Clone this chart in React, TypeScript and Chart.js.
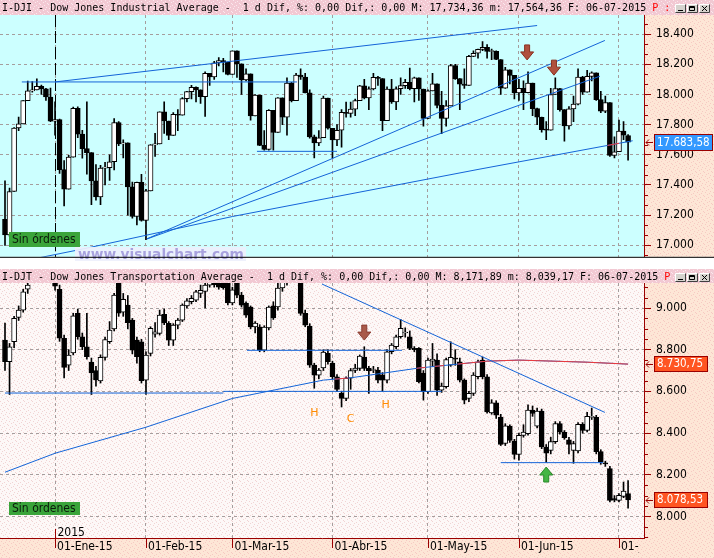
import React, { useEffect, useRef } from 'react';
import { Chart, registerables } from 'chart.js';

Chart.register(...registerables);

/* ============================ DATA ============================ */
// bar index 0 = 16-Dic-2014 ... 137 = 06-Jul-2015 (trading days)
const monthTickIndex = [11, 31, 50, 72, 93, 113, 135];
const monthTickLabels = ['01-Ene-15', '01-Feb-15', '01-Mar-15', '01-Abr-15', '01-May-15', '01-Jun-15', '01-Jul-15'];
const yearTickIndex = 11;
const yearTickLabel = '2015';
const quoteDate = '06-07-2015';

const djiTickValues = [17000, 17200, 17400, 17600, 17800, 18000, 18200, 18400];
const djtTickValues = [8000, 8200, 8400, 8600, 8800, 9000];

// I-DJI Dow Jones Industrial Average
const djiOpen = [
  17173, 17069, 17357, 17778, 17805, 17959, 18024, 18030, 18054, 18038,
  17983, 17823, 17833, 17502, 17372, 17585, 17908, 17737, 17641, 17614,
  17427, 17321, 17512, 17515, 17554, 17814, 17673, 17679, 17387, 17191,
  17417, 17165, 17361, 17666, 17673, 17885, 17824, 17729, 17869, 17862,
  17972, 18019, 18048, 18030, 17986, 18140, 18117, 18209, 18225, 18214,
  18133, 18289, 18203, 18097, 18136, 17857, 17996, 17663, 17635, 17895,
  17749, 17977, 17849, 18076, 17959, 18128, 18116, 18011, 17719, 17678,
  17713, 17976, 17776, 17698, 17763, 17881, 17875, 17903, 17959, 18058,
  17977, 18037, 18113, 18106, 17826, 18035, 17950, 18038, 18059, 18080,
  18038, 18110, 18036, 17841, 18024, 18070, 17928, 17842, 17924, 18191,
  18105, 18068, 18060, 18252, 18273, 18299, 18312, 18285, 18286, 18232,
  18042, 18163, 18126, 18011, 18040, 18012, 18076, 17906, 17849, 17767,
  17764, 18000, 18039, 17899, 17791, 17904, 17936, 18116, 18016, 18120,
  18144, 17966, 17890, 17947, 17596, 17620, 17758, 17728,
];
const djiHigh = [
  17427, 17380, 17780, 17850, 17960, 18088, 18086, 18103, 18062, 18040,
  18043, 17951, 17837, 17562, 17597, 17916, 17918, 17763, 17951, 17614,
  17535, 17531, 17550, 17600, 17840, 17820, 17700, 17680, 17420, 17420,
  17470, 17372, 17667, 17742, 17885, 17951, 17824, 17880, 17900, 17980,
  18020, 18060, 18050, 18030, 18150, 18140, 18220, 18245, 18240, 18215,
  18290, 18289, 18203, 18170, 18136, 18000, 17996, 17760, 17900, 17895,
  17980, 17977, 18110, 18080, 18140, 18170, 18140, 18030, 17730, 17760,
  17990, 17976, 17776, 17800, 17900, 17950, 17950, 17970, 18060, 18100,
  18050, 18140, 18120, 18106, 18050, 18100, 18050, 18110, 18100, 18175,
  18115, 18110, 18036, 18030, 18140, 18070, 18020, 17960, 18200, 18200,
  18105, 18170, 18260, 18290, 18300, 18351, 18330, 18300, 18290, 18232,
  18180, 18163, 18126, 18100, 18090, 18150, 18076, 17910, 17850, 17820,
  18040, 18110, 18040, 17900, 17920, 17990, 18170, 18120, 18160, 18150,
  18144, 18020, 17990, 17947, 17720, 17830, 17820, 17734.36,
];
const djiLow = [
  17000, 17060, 17357, 17760, 17805, 17959, 18015, 18030, 18000, 17960,
  17820, 17731, 17476, 17262, 17372, 17585, 17713, 17578, 17471, 17270,
  17300, 17270, 17400, 17430, 17500, 17660, 17580, 17200, 17180, 17136,
  17160, 17037, 17361, 17590, 17673, 17741, 17700, 17729, 17760, 17862,
  17950, 17970, 17950, 17940, 17855, 18060, 18100, 18190, 18150, 18130,
  18133, 18113, 18000, 18090, 17830, 17857, 17660, 17630, 17630, 17630,
  17749, 17800, 17730, 17950, 17959, 18100, 18010, 17710, 17580, 17660,
  17713, 17770, 17578, 17660, 17650, 17850, 17850, 17860, 17959, 17970,
  17900, 18030, 18060, 17760, 17826, 17940, 17900, 18000, 18040, 18030,
  17950, 17960, 17790, 17840, 18024, 17910, 17740, 17790, 17924, 18100,
  17900, 18040, 18060, 18250, 18240, 18290, 18240, 18230, 18230, 18000,
  18040, 18070, 17970, 17960, 17900, 18010, 17860, 17800, 17750, 17700,
  17764, 18000, 17890, 17690, 17770, 17820, 17930, 18000, 18016, 18090,
  17960, 17880, 17880, 17590, 17580, 17620, 17700, 17564.36,
];
const djiClose = [
  17069, 17357, 17778, 17805, 17959, 18024, 18030, 18054, 18038, 17983,
  17823, 17833, 17502, 17372, 17585, 17908, 17737, 17641, 17614, 17427,
  17321, 17512, 17515, 17554, 17814, 17673, 17679, 17387, 17191, 17417,
  17165, 17361, 17666, 17673, 17885, 17824, 17729, 17869, 17862, 17972,
  18019, 18048, 18030, 17986, 18140, 18117, 18209, 18225, 18214, 18133,
  18289, 18203, 18097, 18136, 17857, 17996, 17663, 17635, 17895, 17749,
  17977, 17849, 18076, 17959, 18128, 18116, 18011, 17719, 17678, 17713,
  17976, 17776, 17698, 17763, 17881, 17875, 17903, 17959, 18058, 17977,
  18037, 18113, 18106, 17826, 18035, 17950, 18038, 18059, 18080, 18038,
  18110, 18036, 17841, 18024, 18070, 17928, 17842, 17924, 18191, 18105,
  18068, 18060, 18252, 18273, 18299, 18312, 18285, 18286, 18232, 18042,
  18163, 18126, 18011, 18040, 18012, 18076, 17906, 17849, 17767, 17764,
  18000, 18039, 17899, 17791, 17904, 17936, 18116, 18016, 18120, 18144,
  17966, 17890, 17947, 17596, 17620, 17758, 17730, 17683.58,
];
// moving average (read at a few bars)
const djiMaIndex = [-2, 17, 50, 104, 133, 138];
const djiMaValue = [16860, 16975, 17191, 17503, 17665, 17693];
const djiMaRedRanges = [[132.5, 135]];
// drawn lines: [bar1, value1, bar2, value2]
const djiTrendLines = [
  [3.7, 18083, 64.2, 18083],
  [11, 18083, 117, 18457],
  [55.4, 17623, 73, 17623],
  [31.2, 17043, 131.9, 18358],
  [31.2, 17042, 130.8, 18121],
];
const djiDownArrows = [[114.8, 18229], [120.7, 18128]];

// I-DJT Dow Jones Transportation Average
const djtOpen = [
  8846, 8742, 8838, 8955, 8990, 9090, 9140, 9180, 9210, 9230,
  9190, 9160, 9090, 8855, 8726, 8785, 8974, 8862, 8814, 8740,
  8700, 8650, 8763, 8838, 8900, 9130, 8980, 9014, 8942, 8846,
  8838, 8654, 8782, 8875, 8878, 8970, 8926, 8846, 8918, 8942,
  9010, 9030, 9038, 9070, 9080, 9110, 9160, 9140, 9130, 9130,
  9024, 9130, 9062, 9024, 9005, 8909, 8909, 8798, 8904, 9010,
  9005, 9096, 9125, 9150, 9170, 9140, 8974, 8913, 8726, 8678,
  8712, 8782, 8736, 8670, 8590, 8566, 8663, 8700, 8710, 8763,
  8710, 8700, 8702, 8678, 8654, 8790, 8814, 8862, 8880, 8862,
  8806, 8806, 8686, 8598, 8745, 8750, 8606, 8622, 8726, 8760,
  8742, 8654, 8566, 8590, 8670, 8750, 8670, 8497, 8545, 8477,
  8350, 8434, 8361, 8298, 8389, 8397, 8510, 8433, 8506, 8333,
  8317, 8359, 8445, 8404, 8368, 8317, 8314, 8442, 8413, 8475,
  8475, 8311, 8255, 8229, 8085, 8077, 8096, 8109,
];
const djtHigh = [
  8928, 8830, 8960, 9010, 9090, 9140, 9200, 9230, 9250, 9260,
  9220, 9175, 9110, 8870, 8800, 8975, 8995, 8880, 8975, 8760,
  8720, 8775, 8860, 8935, 9070, 9150, 9070, 9060, 8950, 8860,
  8850, 8790, 8910, 8930, 8990, 8995, 8935, 8925, 8950, 9020,
  9045, 9060, 9085, 9110, 9130, 9170, 9180, 9150, 9140, 9140,
  9100, 9140, 9075, 9030, 9010, 8935, 8920, 8915, 9010, 9030,
  9125, 9140, 9160, 9190, 9200, 9150, 8990, 8925, 8735, 8710,
  8800, 8800, 8745, 8680, 8600, 8670, 8710, 8730, 8775, 8814,
  8720, 8720, 8715, 8690, 8800, 8830, 8870, 8945, 8905, 8890,
  8815, 8810, 8700, 8760, 8830, 8780, 8640, 8760, 8838, 8800,
  8760, 8660, 8600, 8690, 8750, 8765, 8680, 8560, 8555, 8490,
  8445, 8440, 8370, 8400, 8440, 8535, 8530, 8520, 8515, 8345,
  8380, 8455, 8455, 8412, 8380, 8360, 8450, 8450, 8500, 8520,
  8485, 8320, 8265, 8240, 8100, 8110, 8165, 8171.89,
];
const djtLow = [
  8700, 8585, 8810, 8940, 8980, 9070, 9125, 9150, 9170, 9170,
  9140, 9085, 8840, 8665, 8700, 8775, 8850, 8800, 8755, 8585,
  8625, 8640, 8750, 8830, 8890, 8960, 8960, 8900, 8780, 8735,
  8640, 8585, 8770, 8860, 8870, 8920, 8820, 8820, 8900, 8935,
  9000, 9020, 9030, 9050, 9000, 9100, 9100, 9090, 9090, 9015,
  9015, 9050, 9005, 8955, 8900, 8880, 8790, 8790, 8895, 8945,
  8990, 9080, 9110, 9130, 9130, 8965, 8910, 8715, 8615, 8660,
  8700, 8730, 8660, 8600, 8525, 8555, 8610, 8690, 8700, 8700,
  8590, 8690, 8640, 8600, 8640, 8780, 8805, 8855, 8860, 8800,
  8790, 8640, 8558, 8590, 8720, 8580, 8595, 8615, 8720, 8725,
  8645, 8540, 8550, 8580, 8660, 8660, 8495, 8490, 8470, 8340,
  8340, 8355, 8275, 8270, 8380, 8390, 8480, 8425, 8325, 8260,
  8300, 8350, 8395, 8370, 8300, 8255, 8305, 8400, 8405, 8465,
  8300, 8250, 8240, 8070, 8070, 8070, 8090, 8039.17,
];
const djtClose = [
  8742, 8814, 8950, 8990, 9078, 9110, 9180, 9210, 9230, 9190,
  9160, 9105, 8855, 8715, 8774, 8962, 8862, 8814, 8766, 8690,
  8655, 8763, 8849, 8894, 9062, 8975, 9042, 8930, 8798, 8766,
  8651, 8774, 8902, 8886, 8966, 8930, 8846, 8918, 8942, 9014,
  9034, 9047, 9078, 9085, 9110, 9160, 9112, 9100, 9097, 9024,
  9087, 9062, 9014, 8966, 8909, 8928, 8798, 8909, 9005, 8952,
  9096, 9125, 9145, 9170, 9150, 8974, 8918, 8726, 8678, 8702,
  8789, 8742, 8670, 8609, 8566, 8663, 8700, 8712, 8769, 8710,
  8699, 8705, 8654, 8654, 8790, 8822, 8862, 8902, 8884, 8806,
  8800, 8646, 8598, 8750, 8755, 8606, 8625, 8753, 8763, 8755,
  8654, 8558, 8590, 8678, 8742, 8670, 8501, 8545, 8486, 8346,
  8435, 8365, 8298, 8389, 8405, 8510, 8494, 8506, 8333, 8304,
  8359, 8446, 8404, 8378, 8346, 8350, 8442, 8413, 8480, 8480,
  8311, 8261, 8252, 8077, 8078, 8101, 8122, 8078.53,
];
const djtMaIndex = [0, 11, 31, 50, 70, 76, 91, 106, 113, 128, 137];
const djtMaValue = [8212, 8303, 8428, 8566, 8654, 8665, 8712, 8745, 8750, 8740, 8730.75];
const djtMaRedRanges = [[72.5, 75.5], [90.5, 92.5], [94.5, 96.5], [99.5, 140]];
const djtTrendLines = [
  [0, 8592, 48, 8592],
  [48, 8600, 96, 8600],
  [53.2, 8797, 87.3, 8797],
  [109, 8258, 131.5, 8258],
  [69.7, 9115, 131.9, 8499],
];
const djtDownArrows = [[79, 8846]];
const djtUpArrows = [[119, 8237]];
const djtPatternText = ['H', 'C', 'H'];
const djtPatternIndex = [68, 76, 83.7];
const djtPatternValue = [8494, 8467, 8535];

/* ============================ STYLE ============================ */
const W = 714;
const AXIS_W = 70;
const TOP_H = 269;
const BOT_H = 289;
const X_MIN = -1.1;
const X_MAX = 140.5;
const DJI_MIN = 16924;
const DJI_MAX = 18526.7;
const DJT_MIN = 7896.4;
const DJT_MAX = 9120;

const GRID = '#a59d9d';
const AXIS_RED = '#9a0000';
const TOP_BG = '#ccffff';
const LINE_BLUE = '#1464d8';
const MA_RED = '#f03a3a';
const MONO = '"DejaVu Sans Mono", "Liberation Mono", monospace';

// speckled backgrounds like the picture's textures
const DOTS = [[1, 0], [5, 1], [3, 2], [7, 3], [0, 4], [4, 5], [2, 6], [6, 7]];
function speckle(ctx: CanvasRenderingContext2D, base: string, dot: string) {
  const c = document.createElement('canvas');
  c.width = 8; c.height = 8;
  const g = c.getContext('2d') as CanvasRenderingContext2D;
  g.fillStyle = base; g.fillRect(0, 0, 8, 8);
  g.fillStyle = dot;
  for (const [x, y] of DOTS) g.fillRect(x, y, 1, 1);
  return ctx.createPattern(c, 'repeat') as CanvasPattern;
}
function fills(ctx: CanvasRenderingContext2D) {
  return {
    title: speckle(ctx, '#f2c9d3', '#fbe9ee'),
    axis: speckle(ctx, '#fde6d6', '#f6c9c2'),
    plot: speckle(ctx, '#fdf8f7', '#f1d3d3'),
  };
}

function fmtNum(v: number, dec: number) {
  const s = Math.abs(v).toFixed(dec);
  const [ip, dp] = s.split('.');
  const g = ip.replace(/\B(?=(\d{3})+(?!\d))/g, '.');
  return (v < 0 ? '-' : '') + g + (dp ? ',' + dp : '');
}
const fmtTitleNum = (v: number) => fmtNum(v, 2).replace(/\./g, ',');

function detectNarrow() {
  const ctx = document.createElement('canvas').getContext('2d') as CanvasRenderingContext2D;
  const s = 'Sin órdenes 0123456789.,';
  const w = (f: string) => { ctx.font = f; return ctx.measureText(s).width; };
  const base = w('40px monospace');
  const cands = ['Liberation Sans Narrow', 'DejaVu Sans Condensed', 'Arial Narrow'];
  let family = '"DejaVu Sans Mono"';
  for (const name of cands) {
    if (Math.abs(w(`40px "${name}", monospace`) - base) > 0.5) { family = `"${name}"`; break; }
  }
  ctx.font = `20px ${family}`;
  const w20 = ctx.measureText('18.400').width;
  const size = Math.min(14, Math.round(((20 * 37) / w20) * 2) / 2);
  return { family, size };
}

function lineDs(points: any[], color: string, extra: any = {}) {
  return {
    type: 'line', data: points, borderColor: color, borderWidth: 1, pointRadius: 0,
    pointHoverRadius: 0, fill: false, tension: 0, order: 0, ...extra,
  };
}

function candleSets(o: number[], h: number[], l: number[], c: number[]) {
  const body = o.map((v, i) => ({ x: i, y: [v, c[i]] }));
  const wick = o.map((_, i) => ({ x: i, y: [l[i], h[i]] }));
  const fill = o.map((v, i) => (c[i] >= v ? '#ffffff' : '#000000'));
  return [
    { type: 'bar', data: body, backgroundColor: fill, borderColor: '#000', borderWidth: 1, borderSkipped: false,
      barThickness: 5, grouped: false, minBarLength: 1, order: 1 },
    { type: 'bar', data: wick, backgroundColor: '#000', borderWidth: 0, barThickness: 1, grouped: false, order: 2 },
  ];
}

const rangeClipPlugin = {
  id: 'rangeClip',
  beforeDatasetDraw(chart: any, args: any) {
    const ds = chart.data.datasets[args.index];
    if (!ds.clipRanges) return;
    const { ctx, chartArea: a } = chart;
    const xs = chart.scales.x;
    ctx.save();
    ctx.beginPath();
    for (const [r0, r1] of ds.clipRanges) {
      const p0 = xs.getPixelForValue(r0);
      const p1 = xs.getPixelForValue(r1);
      ctx.rect(p0, a.top, p1 - p0, a.bottom - a.top);
    }
    ctx.clip();
  },
  afterDatasetDraw(chart: any, args: any) {
    const ds = chart.data.datasets[args.index];
    if (ds.clipRanges) chart.ctx.restore();
  },
};

function fitFont(ctx: CanvasRenderingContext2D, text: string, nf: any, maxW: number) {
  let size = nf.size;
  ctx.font = `${size}px ${nf.family}`;
  while (ctx.measureText(text).width > maxW && size > 8) {
    size -= 0.5;
    ctx.font = `${size}px ${nf.family}`;
  }
}

function drawTitle(ctx: CanvasRenderingContext2D, text: string, tag: string) {
  ctx.font = `10px ${MONO}`;
  ctx.textBaseline = 'alphabetic';
  ctx.textAlign = 'left';
  ctx.fillStyle = '#000';
  ctx.fillText(text, 2, 11);
  const w = ctx.measureText(text).width;
  ctx.fillStyle = '#ff0000';
  ctx.fillText(tag, 2 + w + 6, 11);
  const xs = [675, 687, 699];
  for (let k = 0; k < 3; k++) {
    const x = xs[k];
    const y = 4;
    ctx.fillStyle = '#d6d3ce';
    ctx.fillRect(x, y, 11, 9);
    ctx.strokeStyle = '#ffffff';
    ctx.lineWidth = 1;
    ctx.beginPath(); ctx.moveTo(x + 0.5, y + 8.5); ctx.lineTo(x + 0.5, y + 0.5); ctx.lineTo(x + 10.5, y + 0.5); ctx.stroke();
    ctx.strokeStyle = '#404040';
    ctx.beginPath(); ctx.moveTo(x + 10.5, y + 0.5); ctx.lineTo(x + 10.5, y + 8.5); ctx.lineTo(x + 0.5, y + 8.5); ctx.stroke();
    ctx.strokeStyle = '#000';
    ctx.beginPath();
    if (k === 0) { ctx.moveTo(x + 3, y + 6.5); ctx.lineTo(x + 8, y + 6.5); }
    if (k === 1) { ctx.rect(x + 2.5, y + 2.5, 5, 4); ctx.moveTo(x + 2.5, y + 3.5); ctx.lineTo(x + 7.5, y + 3.5); }
    if (k === 2) { ctx.moveTo(x + 3, y + 2); ctx.lineTo(x + 8, y + 7); ctx.moveTo(x + 8, y + 2); ctx.lineTo(x + 3, y + 7); }
    ctx.stroke();
  }
}

function drawMinorTicks(ctx: CanvasRenderingContext2D, ys: any, right: number, base: number, step: number, every: number, min: number, max: number) {
  ctx.strokeStyle = AXIS_RED;
  ctx.lineWidth = 1;
  const k0 = Math.ceil((min - base) / step);
  for (let k = k0; base + k * step <= max; k++) {
    if (((k % every) + every) % every === 0) continue;
    const y = Math.round(ys.getPixelForValue(base + k * step)) + 0.5;
    ctx.beginPath(); ctx.moveTo(right, y); ctx.lineTo(right + 4, y); ctx.stroke();
  }
}

function priceBox(ctx: CanvasRenderingContext2D, yc: number, text: string, bg: string, x0: number, x1: number, h: number, nf: any) {
  const y0 = Math.round(yc - h / 2);
  ctx.fillStyle = bg;
  ctx.fillRect(x0, y0, x1 - x0, h);
  ctx.strokeStyle = AXIS_RED;
  ctx.lineWidth = 1;
  ctx.strokeRect(x0 + 0.5, y0 + 0.5, x1 - x0 - 1, h - 1);
  ctx.fillStyle = '#ffffff';
  fitFont(ctx, text, nf, x1 - x0 - 6);
  ctx.textBaseline = 'middle';
  ctx.textAlign = 'left';
  ctx.fillText(text, x0 + 3, y0 + h / 2 + 0.5);
  const ya = y0 + Math.floor(h / 2) + 0.5;
  ctx.beginPath();
  ctx.moveTo(646, ya); ctx.lineTo(653, ya);
  ctx.moveTo(649, ya - 3); ctx.lineTo(646, ya); ctx.lineTo(649, ya + 3);
  ctx.stroke();
}

function blockArrow(ctx: CanvasRenderingContext2D, cx: number, tipY: number, dir: number, fill: string, edge: string) {
  const shaftW = 5, headW = 13, headH = 8, shaftH = 7;
  ctx.beginPath();
  ctx.moveTo(cx, tipY);
  ctx.lineTo(cx - headW / 2, tipY - dir * headH);
  ctx.lineTo(cx - shaftW / 2, tipY - dir * headH);
  ctx.lineTo(cx - shaftW / 2, tipY - dir * (headH + shaftH));
  ctx.lineTo(cx + shaftW / 2, tipY - dir * (headH + shaftH));
  ctx.lineTo(cx + shaftW / 2, tipY - dir * headH);
  ctx.lineTo(cx + headW / 2, tipY - dir * headH);
  ctx.closePath();
  ctx.fillStyle = fill;
  ctx.fill();
  ctx.strokeStyle = edge;
  ctx.lineWidth = 1;
  ctx.stroke();
}

function greenBox(ctx: CanvasRenderingContext2D, x: number, y: number, w: number, h: number, nf: any) {
  ctx.fillStyle = '#3aa43a';
  ctx.fillRect(x, y, w, h);
  ctx.fillStyle = '#0a1a0a';
  fitFont(ctx, 'Sin órdenes', nf, w - 6);
  ctx.textBaseline = 'middle';
  ctx.textAlign = 'left';
  ctx.fillText('Sin órdenes', x + 3, y + h / 2 + 0.5);
}

function yAxisOpts(min: number, max: number, ticks: number[], nf: any) {
  return {
    position: 'right', min, max,
    afterBuildTicks: (s: any) => { s.ticks = ticks.map((v) => ({ value: v })); },
    afterFit: (s: any) => { s.width = AXIS_W; },
    ticks: { callback: (v: number) => fmtNum(v, 0), color: '#000', padding: 5, font: { family: nf.family, size: nf.size } },
    grid: { color: GRID, lineWidth: 1, tickColor: AXIS_RED, tickLength: 7, drawTicks: true },
    border: { display: true, color: AXIS_RED, width: 1, dash: [3, 3] },
  };
}

function xAxisOpts(showLabels: boolean, nf: any) {
  return {
    type: 'linear', min: X_MIN, max: X_MAX, offset: false, position: 'bottom',
    afterBuildTicks: (s: any) => { s.ticks = monthTickIndex.map((v) => ({ value: v })); },
    afterFit: (s: any) => { s.height = showLabels ? 20 : 0; },
    ticks: {
      display: showLabels, autoSkip: false, maxRotation: 0, minRotation: 0, align: 'start', labelOffset: 2, padding: 2,
      color: '#000', font: { family: nf.family, size: nf.size },
      callback: (v: number) => { const k = monthTickIndex.indexOf(v); return k >= 0 ? monthTickLabels[k] : ''; },
    },
    grid: { offset: false, color: GRID, lineWidth: 1, drawTicks: false },
    border: { display: showLabels, color: AXIS_RED, width: 1, dash: [3, 3] },
  };
}

const baseOptions = {
  responsive: false, maintainAspectRatio: false, animation: false, devicePixelRatio: 1, events: [],
  plugins: { legend: { display: false }, tooltip: { enabled: false }, title: { display: false } },
};

function buildTop(nf: any) {
  const last = djiClose.length - 1;
  const title = `I-DJI - Dow Jones Industrial Average -  1 d Dif, %: 0,00 Dif,: 0,00 M: ${fmtTitleNum(djiHigh[last])} m: ${fmtTitleNum(djiLow[last])} F: ${quoteDate}`;
  const maPts = djiMaIndex.map((x, k) => ({ x, y: djiMaValue[k] }));
  let pf: any = null;
  const deco = {
    id: 'topDeco',
    beforeDraw(chart: any) {
      const { ctx, chartArea: a } = chart;
      pf = pf || fills(ctx);
      ctx.save();
      ctx.fillStyle = pf.title; ctx.fillRect(0, 0, W, a.top);
      ctx.fillStyle = TOP_BG; ctx.fillRect(a.left, a.top, a.right - a.left, a.bottom - a.top);
      ctx.fillStyle = pf.axis; ctx.fillRect(a.right, a.top, W - a.right, a.bottom - a.top);
      ctx.restore();
    },
    beforeDatasetsDraw(chart: any) {
      const { ctx, chartArea: a } = chart;
      const x = Math.round(chart.scales.x.getPixelForValue(yearTickIndex)) + 0.5;
      ctx.save();
      ctx.strokeStyle = '#000'; ctx.lineWidth = 1; ctx.setLineDash([12, 4]);
      ctx.beginPath(); ctx.moveTo(x, a.top); ctx.lineTo(x, a.bottom); ctx.stroke();
      ctx.restore();
    },
    afterDraw(chart: any) {
      const { ctx, chartArea: a } = chart;
      const xs = chart.scales.x, ys = chart.scales.y;
      ctx.save();
      drawMinorTicks(ctx, ys, a.right, 17000, 200 / 3, 3, DJI_MIN, DJI_MAX);
      ctx.fillStyle = 'rgba(238,240,252,0.92)';
      ctx.fillRect(75, 247, 171, 14);
      ctx.font = 'bold 20px "DejaVu Sans"';
      const wm = 'www.visualchart.com';
      const w20 = ctx.measureText(wm).width;
      ctx.font = `bold ${(20 * 166) / w20}px "DejaVu Sans"`;
      ctx.fillStyle = '#a8a2de'; ctx.textBaseline = 'alphabetic'; ctx.textAlign = 'left';
      ctx.fillText(wm, 78, 259);
      greenBox(ctx, 9, 232, 71, 15, nf);
      for (const [i, v] of djiDownArrows) {
        blockArrow(ctx, xs.getPixelForValue(i), ys.getPixelForValue(v), 1, '#b0503e', '#8a3020');
      }
      priceBox(ctx, ys.getPixelForValue(djiClose[last]), fmtNum(djiClose[last], 2), '#3399ff', 654, 713, 17, nf);
      ctx.fillStyle = pf.title; ctx.fillRect(0, 0, W, a.top);
      drawTitle(ctx, title, 'P :');
      ctx.fillStyle = '#000'; ctx.fillRect(0, a.bottom, W, 1);
      ctx.restore();
    },
  };
  return {
    type: 'bar',
    data: {
      datasets: [
        ...djiTrendLines.map((t) => lineDs([{ x: t[0], y: t[1] }, { x: t[2], y: t[3] }], LINE_BLUE)),
        lineDs(maPts, MA_RED, { clipRanges: djiMaRedRanges }),
        lineDs(maPts, LINE_BLUE),
        ...candleSets(djiOpen, djiHigh, djiLow, djiClose),
      ],
    },
    options: {
      ...baseOptions,
      layout: { padding: { top: 15, bottom: 1, left: 0, right: 0 } },
      scales: { x: xAxisOpts(false, nf), y: yAxisOpts(DJI_MIN, DJI_MAX, djiTickValues, nf) },
    },
    plugins: [rangeClipPlugin, deco],
  };
}

function buildBottom(nf: any) {
  const last = djtClose.length - 1;
  const title = `I-DJT - Dow Jones Transportation Average -  1 d Dif, %: 0,00 Dif,: 0,00 M: ${fmtTitleNum(djtHigh[last])} m: ${fmtTitleNum(djtLow[last])} F: ${quoteDate}`;
  const maPts = djtMaIndex.map((x, k) => ({ x, y: djtMaValue[k] }));
  let pf: any = null;
  const deco = {
    id: 'botDeco',
    beforeDraw(chart: any) {
      const { ctx, chartArea: a } = chart;
      pf = pf || fills(ctx);
      ctx.save();
      ctx.fillStyle = pf.title; ctx.fillRect(0, 0, W, a.top);
      ctx.fillStyle = pf.plot; ctx.fillRect(a.left, a.top, a.right - a.left, a.bottom - a.top);
      ctx.fillStyle = pf.axis;
      ctx.fillRect(a.right, a.top, W - a.right, BOT_H - a.top);
      ctx.fillRect(0, a.bottom, W, BOT_H - a.bottom);
      ctx.restore();
    },
    afterDraw(chart: any) {
      const { ctx, chartArea: a } = chart;
      const xs = chart.scales.x, ys = chart.scales.y;
      ctx.save();
      ctx.fillStyle = pf.axis;
      ctx.fillRect(a.right - 5, a.bottom + 1, W - a.right + 5, BOT_H - a.bottom);
      drawMinorTicks(ctx, ys, a.right, 8000, 50, 4, DJT_MIN, DJT_MAX);
      ctx.strokeStyle = AXIS_RED; ctx.lineWidth = 1;
      for (const i of monthTickIndex) {
        const x = Math.round(xs.getPixelForValue(i)) + 0.5;
        ctx.beginPath(); ctx.moveTo(x, a.bottom); ctx.lineTo(x, a.bottom + 10); ctx.stroke();
      }
      const yx = Math.round(xs.getPixelForValue(yearTickIndex)) + 0.5;
      ctx.beginPath(); ctx.moveTo(yx, a.bottom - 9); ctx.lineTo(yx, a.bottom); ctx.stroke();
      ctx.fillStyle = '#000';
      ctx.font = `${nf.size}px ${nf.family}`;
      ctx.textBaseline = 'alphabetic'; ctx.textAlign = 'left';
      ctx.fillText(yearTickLabel, yx + 2, a.bottom - 2);
      greenBox(ctx, 9, 233, 71, 13, nf);
      for (const [i, v] of djtDownArrows) {
        blockArrow(ctx, xs.getPixelForValue(i), ys.getPixelForValue(v), 1, '#a95a4a', '#8a3c30');
      }
      for (const [i, v] of djtUpArrows) {
        blockArrow(ctx, xs.getPixelForValue(i), ys.getPixelForValue(v), -1, '#45b545', '#2a8a2a');
      }
      ctx.fillStyle = '#ff8a00';
      ctx.font = '11px "DejaVu Sans"';
      ctx.textAlign = 'center'; ctx.textBaseline = 'middle';
      djtPatternText.forEach((t, k) => {
        ctx.fillText(t, xs.getPixelForValue(djtPatternIndex[k]), ys.getPixelForValue(djtPatternValue[k]));
      });
      const maLast = djtMaValue[djtMaValue.length - 1];
      priceBox(ctx, ys.getPixelForValue(maLast), fmtNum(maLast, 2), '#ff5522', 654, 708, 16, nf);
      priceBox(ctx, ys.getPixelForValue(djtClose[last]), fmtNum(djtClose[last], 2), '#ff5522', 654, 708, 16, nf);
      ctx.fillStyle = pf.title; ctx.fillRect(0, 0, W, a.top);
      drawTitle(ctx, title, 'P');
      ctx.restore();
    },
  };
  return {
    type: 'bar',
    data: {
      datasets: [
        ...djtTrendLines.map((t) => lineDs([{ x: t[0], y: t[1] }, { x: t[2], y: t[3] }], LINE_BLUE)),
        lineDs(maPts, MA_RED, { clipRanges: djtMaRedRanges }),
        lineDs(maPts, LINE_BLUE),
        ...candleSets(djtOpen, djtHigh, djtLow, djtClose),
      ],
    },
    options: {
      ...baseOptions,
      layout: { padding: { top: 14, bottom: 0, left: 0, right: 0 } },
      scales: { x: xAxisOpts(true, nf), y: yAxisOpts(DJT_MIN, DJT_MAX, djtTickValues, nf) },
    },
    plugins: [rangeClipPlugin, deco],
  };
}

export default function App() {
  const topRef = useRef<HTMLCanvasElement>(null);
  const botRef = useRef<HTMLCanvasElement>(null);
  useEffect(() => {
    document.body.style.margin = '0';
    const nf = detectNarrow();
    const c1 = new Chart(topRef.current as HTMLCanvasElement, buildTop(nf) as any);
    const c2 = new Chart(botRef.current as HTMLCanvasElement, buildBottom(nf) as any);
    return () => { c1.destroy(); c2.destroy(); };
  }, []);
  return (
    <div style={{ position: 'fixed', left: 0, top: 0, width: W, height: 558, overflow: 'hidden', background: '#fff' }}>
      <canvas ref={topRef} width={W} height={TOP_H} style={{ position: 'absolute', left: 0, top: 0, width: W, height: TOP_H }} />
      <canvas ref={botRef} width={W} height={BOT_H} style={{ position: 'absolute', left: 0, top: TOP_H, width: W, height: BOT_H }} />
    </div>
  );
}
